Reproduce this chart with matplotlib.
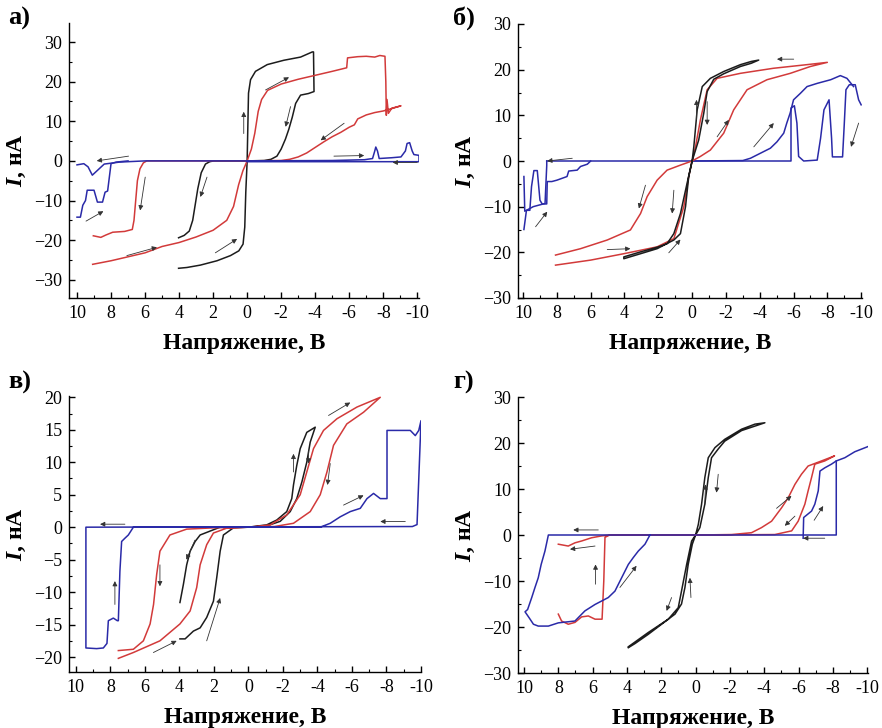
import matplotlib
matplotlib.use("Agg")
import matplotlib.pyplot as plt
from matplotlib.ticker import MultipleLocator

plt.rcParams['font.family'] = ['Liberation Serif', 'DejaVu Serif']
plt.rcParams['mathtext.fontset'] = 'custom'
plt.rcParams['mathtext.rm'] = 'Liberation Serif'
plt.rcParams['mathtext.it'] = 'Liberation Serif:italic'
plt.rcParams['mathtext.bf'] = 'Liberation Serif:bold'
plt.rcParams['mathtext.bfit'] = 'Liberation Serif:italic:bold'

BLACK = '#1c1c1c'
RED = '#d23a3a'
BLUE = '#2a2aa8'

# ---------------- panel a ----------------
a_black_v = [4.03, 3.54, 2.75, 1.77, 0.98, 0.49, 0.24, 0.14, 0.08, 0.0, -0.04, -0.08, -0.2, -0.49, -1.18, -2.16, -3.14, -3.83, -3.9,
             -3.93, -3.6, -3.14, -2.85, -2.65, -2.45, -2.25, -2.0, -1.75, -1.4, -1.0, 0.0, 1.0, 1.96, 2.2, 2.45, 2.7, 2.9, 3.05, 3.2, 3.4, 3.7, 4.03]
a_black_i = [-27.1, -26.9, -26.3, -25.2, -23.9, -22.7, -21.0, -16.7, -7.9, 0.0, 8.6, 17.1, 20.5, 22.6, 24.3, 25.4, 26.2, 27.5, 27.5,
             17.5, 17.0, 16.6, 14.5, 11.0, 8.0, 5.5, 3.0, 1.2, 0.4, 0.1, 0.0, 0.0, 0.0, -0.2, -0.8, -3.0, -7.0, -11.0, -15.0, -17.7, -18.8, -19.4]
a_red_v = [9.08, 8, 7, 6, 5, 4, 3, 2, 1.2, 0.8, 0.5, 0.25, 0, -0.25, -0.45, -0.65, -0.85, -1.2, -2, -3, -4, -5, -5.85, -5.9, -6.5, -7.0, -7.5,
           -7.8, -8.1, -8.15, -8.18, -8.22, -8.3, -8.5, -9.04,
           -8.5, -8.0, -7.5, -7.0, -6.5, -6.3, -6.0, -5.5, -5.0, -4.5, -4.0, -3.5, -3.0, -2.5, -2.0, 0.0, 3.0, 5.9, 6.1, 6.3, 6.45, 6.55, 6.65,
           6.75, 7.2, 7.9, 8.3, 8.6, 9.04]
a_red_i = [-26.1, -25.2, -24.2, -23.2, -21.6, -20.6, -19.2, -17.5, -15, -11.5, -6, -2.5, 0, 3, 7, 12.5, 15.5, 17.8, 19.4, 20.6, 21.6, 22.6, 23.5, 26.0, 26.3, 26.4, 26.2,
           26.6, 26.4, 20, 11.5, 15.5, 12, 13.3, 13.9,
           13.2, 12.6, 12.2, 11.6, 10.6, 9.1, 8.5, 7.2, 6.1, 4.8, 3.4, 2.0, 1.0, 0.4, 0.1, 0.0, 0.0, 0.0, -0.5, -2, -5, -10, -15,
           -17.3, -17.8, -18.0, -18.7, -19.3, -18.9]
a_blue1_v = [10, 9.6, 9.35, 9.1, 8.8, 8.4, 7.5, 6, 0, -5, -6.9, -7.37, -7.5, -7.56, -7.66, -7.76, -8.5, -9.04, -9.3, -9.4, -9.55, -9.7, -9.8, -10.1,
             -10.1, 0.0]
a_blue1_i = [-1.0, -0.7, -1.5, -3.6, -2.4, -0.8, -0.3, 0, 0, 0.1, 0.3, 0.6, 2.5, 3.5, 2.5, 0.6, 0.8, 1.0, 2.5, 4.4, 4.6, 2.5, 1.6, 1.4,
             -0.2, -0.2]
a_blue2_v = [10, 9.8, 9.66, 9.5, 9.4, 9.0, 8.8, 8.5, 8.35, 8.2, 8.0, 7.7, 7.0]
a_blue2_i = [-14.2, -14.2, -11.2, -10.0, -7.4, -7.4, -10.4, -10.4, -7.9, -7.6, -0.7, -0.3, 0.0]

# ---------------- panel b ----------------
b_black_v = [0, -0.1, -0.3, -0.6, -1.08, -1.87, -2.86, -3.5, -3.94, -3.5, -2.86, -1.87, -1.28, -0.89, -0.69, -0.39, 0,
             0.2, 0.39, 0.69, 1.08, 2.07, 3.05, 4.04, 4.04, 3.05, 2.0, 1.48, 1.08, 0.69, 0.3, 0]
b_black_i = [0, 3.1, 11.2, 16.3, 18.1, 19.6, 21.1, 21.8, 22.1, 21.4, 20.7, 19.1, 17.9, 15.2, 10.5, 4.6, 0,
             -3.4, -10, -15.9, -17.3, -19.2, -20.3, -21.4, -21.0, -19.9, -18.8, -18.1, -15.9, -11.5, -4.9, 0]
b_red1_v = [0, -0.2, -0.49, -0.89, -1.48, -2.86, -4.8, -6.8, -8.0, -7.0, -5.81, -4.43, -3.25, -2.46, -1.87, -1.08, -0.49, 0,
            0.69, 1.48, 2.07, 2.66, 3.05, 3.65, 5.02, 6.6, 8.08]
b_red1_i = [0, 3.1, 9, 15.6, 18.1, 19.2, 20.3, 21.1, 21.6, 20.7, 19.2, 17.8, 15.6, 11.2, 6.1, 2.4, 1.0, 0,
            -0.9, -2.0, -4.2, -7.8, -11.5, -15.1, -17.3, -19.2, -20.6]
b_red2_v = [8.08, 6.0, 4.04, 2.07, 1.08, 0.49, 0.2, 0]
b_red2_i = [-22.8, -21.7, -20.3, -18.8, -17.0, -10, -3.4, 0]
b_blue1_v = [0, -3.0, -3.45, -4.04, -4.63, -5.02, -5.42, -5.6, -5.8, -6.0, -6.4, -6.8, -7.4, -8.2, -8.77, -9.16, -9.55]
b_blue1_i = [0, 0.1, 0.6, 1.7, 2.8, 4.2, 6.1, 8.3, 10.5, 13.4, 14.8, 16.3, 17.0, 17.8, 18.7, 18.1, 16.3]
b_blue2_v = [-10.0, -9.85, -9.65, -9.3, -9.1, -9.0, -8.9, -8.3, -8.25, -8.1, -7.8, -7.6, -7.4, -6.6, -6.3, -6.2, -6.05, -5.85, -5.85, 0, 8.6]
b_blue2_i = [12.3, 13.4, 16.7, 16.7, 15.6, 8, 0.9, 0.9, 5, 13.4, 11.2, 5, 0.2, 0, 1.0, 8.3, 12.1, 11.6, 0, 0, 0]
b_blue3_v = [6.0, 6.2, 6.6, 6.8, 7.3, 7.4, 8.0, 8.3, 8.57, 8.6, 8.87, 9.0, 9.16, 9.36, 9.5, 9.6, 9.8, 9.95]
b_blue3_i = [0, -0.7, -1.2, -2.0, -2.2, -3.4, -4.2, -4.5, -4.5, -9.4, -9.4, -8.6, -2.1, -2.1, -5.6, -10.8, -10.8, -15.0]
b_blue4_v = [9.95, 9.9, 9.7, 9.4, 9.0, 8.7, 8.6, 8.6]
b_blue4_i = [-3.4, -11.0, -10.6, -10.0, -9.6, -9.3, -1.0, 0.0]

# ---------------- panel c ----------------
c_black_v = [3.97, 3.77, 3.58, 3.38, 3.09, 2.8, 2.03, 1.64, 0, -1.06, -1.64, -2.22, -2.51, -2.61, -2.8, -3.0, -3.38, -3.87,
             -3.58, -3.38, -3.1, -2.8, -2.42, -1.84, -1.06, 0, 0.87, 1.45, 1.64, 1.84, 2.03, 2.42, 2.8, 3.19, 3.67, 3.97]
c_black_i = [-11.6, -8.8, -5.8, -3.7, -2.2, -1.2, -0.4, 0, 0, 0.36, 1.1, 2.4, 4.4, 6.5, 9.5, 12.1, 14.6, 15.4,
             13.1, 10.0, 7.0, 4.4, 2.4, 0.9, 0.2, 0, -0.1, -1.2, -3.7, -7.8, -11.4, -13.9, -15.5, -16.0, -17.2, -17.2]
c_red_v = [7.54, 6.67, 5.13, 3.97, 3.38, 3.0, 2.8, 2.42, 2.03, 1.26, 0, -1.26, -2.22, -3.0, -3.38, -3.77, -4.35, -5.13, -6.29, -7.64,
           -6.67, -5.7, -4.93, -4.55, -4.16, -3.58, -2.61, -1.5, 0, 2.0, 3.58, 4.55, 5.13, 5.32, 5.5, 5.7, 6.09, 6.67, 7.54]
c_red_i = [-20.2, -19.3, -17.5, -14.9, -12.9, -9.3, -5.8, -2.7, -0.9, -0.15, 0, 0.35, 1.9, 5.0, 8.5, 12.1, 14.9, 16.7, 18.5, 20.0,
           17.7, 15.9, 12.6, 8.5, 5.0, 2.4, 0.6, 0.1, 0, -0.1, -0.3, -1.2, -3.7, -7.3, -11.9, -14.9, -17.5, -18.8, -19.0]
c_blue_v = [0, -4.16, -4.74, -5.32, -5.9, -6.48, -6.87, -7.25, -7.64, -8.03, -8.03, -8.8, -9.38, -9.67, -9.87, -10.0, -9.77, -9.5,
            9.42, 9.42, 8.8, 8.41, 8.2, 8.12, 7.83, 7.6, 7.54, 7.45, 7.35, 7.16, 6.96, 6.67, 0]
c_blue_i = [0, 0, 0.6, 1.6, 2.4, 2.9, 4.4, 5.2, 4.4, 4.4, 14.9, 14.9, 14.9, 14.1, 14.9, 16.4, 0.4, 0.1,
            0, -18.6, -18.7, -18.6, -17.9, -14.4, -14.0, -14.4, -14.4, -6.8, -2.2, -1.7, -1.2, 0, 0]

# ---------------- panel d ----------------
d_black_v = [3.92, 3.53, 2.76, 1.98, 1.2, 0.82, 0.62, 0.43, 0.19, 0, -0.16, -0.35, -0.54, -0.74, -1.13, -1.7, -2.68, -3.46, -4.04,
             -2.68, -1.7, -1.32, -0.93, -0.74, -0.54, -0.25, 0, 0.23, 0.52, 0.82, 1.01, 1.59, 2.76, 3.92]
d_black_i = [-24.5, -23.6, -21.6, -19.4, -17.2, -15.0, -11.4, -6.4, -2, 0, 2.3, 6.7, 12.5, 16.8, 19.0, 20.8, 23.0, 24.1, 24.4,
             22.7, 20.4, 18.7, 16.8, 12.5, 6.7, 1.6, 0, -1.3, -6.4, -12.2, -15.8, -18.3, -21.2, -24.3]
d_red_v = [8.0, 7.42, 7.03, 6.64, 6.06, 5.48, 5.0, 0, -2.1, -3.26, -3.84, -4.43, -5.01, -5.4, -5.79, -6.17, -6.56, -7.34, -8.1,
           -7.53, -6.95, -6.76, -6.56, -6.37, -5.98, -5.6, -4.62, 0, 5.0, 5.28, 5.35, 5.45, 5.86, 6.25, 6.64, 7.03, 7.42, 7.81, 8.0]
d_red_i = [-2.0, -2.4, -1.7, -1.3, -0.6, -0.2, 0, 0, 0.1, 0.5, 1.6, 3.0, 5.9, 8.1, 11.0, 13.2, 15.0, 16.1, 17.2,
           16.1, 15.4, 12.5, 9.6, 6.7, 3.0, 0.9, 0.1, 0, 0, -0.5, -10, -18.3, -18.3, -17.6, -17.8, -19.0, -19.4, -18.7, -17.2]
d_blue1_v = [-6.27, -6.3, -6.76, -6.95, -7.15, -7.25, -7.53, -7.92, -8.2, -8.7, -9.28, -10.1]
d_blue1_i = [-0.7, 3.8, 5.2, 6.7, 9.6, 13.9, 14.6, 15.4, 16.1, 16.8, 18.1, 19.3]
d_blue2_v = [-8.2, -8.2, 8.58, 8.78, 9.0, 9.17, 9.36, 9.55, 9.79, 9.94, 9.7, 9.45, 9.17, 8.58, 8.0, 7.03, 6.45, 5.86, 5.09, 4.7,
             4.31, 3.92, 3.63, 3.34, 2.95, 2.66]
d_blue2_i = [16.1, 0, 0, -3.5, -6.4, -9.3, -11.4, -13.6, -16.2, -16.7, -18.0, -19.4, -19.8, -19.8, -19.1, -18.7, -16.5, -15.1, -13.6, -12.2,
             -9.3, -6.4, -4.9, -3.5, -2.0, 0]

# direction arrows: (tail_x, tail_y, head_x, head_y)
a_arrows = [(6.97, 1.2, 8.84, 0.0), (9.47, -15.2, 8.45, -12.7), (5.99, -4.1, 6.29, -12.5), (2.36, -4.1, 2.75, -9.1),
            (7.07, -23.9, 5.3, -21.8), (1.87, -23.2, 0.59, -19.7), (0.2, 6.9, 0.2, 12.4), (-1.08, 17.9, -2.46, 21.1),
            (-2.55, 13.7, -2.26, 8.6), (-5.7, 9.5, -4.32, 5.2), (-5.1, 1.2, -6.88, 1.35), (-10.0, -0.4, -8.55, -0.4)]
b_arrows = [(7.09, 0.6, 8.57, 0.0), (9.26, -14.4, 8.57, -11.1), (2.76, -5.3, 3.15, -10.4), (1.08, -6.4, 1.18, -11.5),
            (5.02, -19.4, 3.65, -19.2), (1.38, -20.1, 0.69, -17.2), (-0.26, 9.0, -0.26, 13.4), (-0.89, 13.0, -0.89, 7.9),
            (-1.48, 5.3, -2.17, 9.0), (-6.01, 22.3, -5.02, 22.3), (-3.65, 3.1, -4.83, 8.3), (-9.85, 8.3, -9.4, 3.1)]
c_arrows = [(7.16, 0.46, 8.6, 0.46), (7.74, -11.9, 7.74, -8.3), (5.13, -5.8, 5.13, -9.1), (3.1, -2.0, 3.6, -5.0),
            (5.51, -19.3, 4.16, -17.5), (2.42, -17.5, 1.64, -10.9), (-2.61, 8.5, -2.61, 11.3), (-3.48, 11.8, -3.48, 9.8),
            (-4.74, 9.8, -4.58, 6.5), (-4.64, 17.2, -5.9, 19.2), (-5.51, 3.4, -6.67, 4.9), (-9.09, 0.87, -7.64, 0.87)]
d_arrows = [(5.67, 1.1, 7.13, 1.1), (5.86, -2.4, 7.32, -3.1), (5.83, -10.7, 5.83, -6.4), (4.41, -11.4, 3.44, -6.7),
            (1.4, -13.6, 1.69, -16.5), (0.27, -13.6, 0.33, -9.3), (-0.54, 6.7, -0.58, 11.0), (-1.32, 13.2, -1.22, 9.2),
            (-4.72, 5.8, -5.59, 8.5), (-5.79, 4.1, -5.2, 2.0), (-6.91, 3.2, -7.44, 6.3), (-7.53, -0.7, -6.27, -0.7)]

panel_labels = ['а)', 'б)', 'в)', 'г)']
xticks = [10, 8, 6, 4, 2, 0, -2, -4, -6, -8, -10]
xlabel = 'Напряжение, В'
ylabel = r'$\mathbfit{I}$, нА'

fig = plt.figure(figsize=(8.82, 7.28), dpi=100)

rects = [
    [69 / 882, 1 - 298 / 728, 350 / 882, 275 / 728],
    [518 / 882, 1 - 298 / 728, 344 / 882, 274 / 728],
    [69 / 882, 1 - 672 / 728, 352 / 882, 276 / 728],
    [518 / 882, 1 - 673 / 728, 350 / 882, 276 / 728],
]
xlims = [(10.47, -10.1), (10.3, -10.05), (10.4, -10.0), (10.35, -10.05)]
ylims = [(-34.6, 34.8), (-30, 30), (-22.3, 20.2), (-30, 30)]
ymajor = [10, 10, 5, 10]

series = [
    [(a_black_v, a_black_i, BLACK), (a_red_v, a_red_i, RED), (a_blue1_v, a_blue1_i, BLUE), (a_blue2_v, a_blue2_i, BLUE)],
    [(b_blue1_v, b_blue1_i, BLUE), (b_blue2_v, b_blue2_i, BLUE), (b_blue3_v, b_blue3_i, BLUE), (b_blue4_v, b_blue4_i, BLUE),
     (b_red1_v, b_red1_i, RED), (b_red2_v, b_red2_i, RED), (b_black_v, b_black_i, BLACK)],
    [(c_black_v, c_black_i, BLACK), (c_red_v, c_red_i, RED), (c_blue_v, c_blue_i, BLUE)],
    [(d_black_v, d_black_i, BLACK), (d_red_v, d_red_i, RED), (d_blue1_v, d_blue1_i, BLUE), (d_blue2_v, d_blue2_i, BLUE)],
]
arrows = [a_arrows, b_arrows, c_arrows, d_arrows]
letter_pos = [(8 / 882, 1 - 18 / 728), (453 / 882, 1 - 18 / 728), (8 / 882, 1 - 382 / 728), (453 / 882, 1 - 382 / 728)]

for k in range(4):
    ax = fig.add_axes(rects[k])
    for v, i, c in series[k]:
        ax.plot(v, i, color=c, lw=1.1, solid_joinstyle='round')
    for tx, ty, hx, hy in arrows[k]:
        ax.annotate('', xy=(hx, hy), xytext=(tx, ty),
                    arrowprops=dict(arrowstyle='-|>', color='#333333', lw=0.6, mutation_scale=7,
                                    shrinkA=0, shrinkB=0))
    ax.set_xlim(*xlims[k])
    ax.set_ylim(*ylims[k])
    ax.set_xticks(xticks)
    ax.set_xticklabels([str(t) for t in xticks])
    ax.xaxis.set_minor_locator(MultipleLocator(1))
    ax.yaxis.set_major_locator(MultipleLocator(ymajor[k]))
    ax.yaxis.set_minor_locator(MultipleLocator(ymajor[k] / 2))
    for s in ['top', 'right']:
        ax.spines[s].set_visible(False)
    for s in ['left', 'bottom']:
        ax.spines[s].set_linewidth(1.0)
    ax.tick_params(which='major', direction='in', length=4, width=1, labelsize=13, pad=5)
    ax.tick_params(which='minor', direction='in', length=2, width=0.8)
    ax.set_xlabel(xlabel, fontsize=17, fontweight='bold', labelpad=8)
    ax.set_ylabel(ylabel, fontsize=17, fontweight='bold', labelpad=4)
    fig.text(letter_pos[k][0], letter_pos[k][1], panel_labels[k], fontsize=19, fontweight='bold',
             ha='left', va='center')

fig.savefig('out.png', dpi=100)
